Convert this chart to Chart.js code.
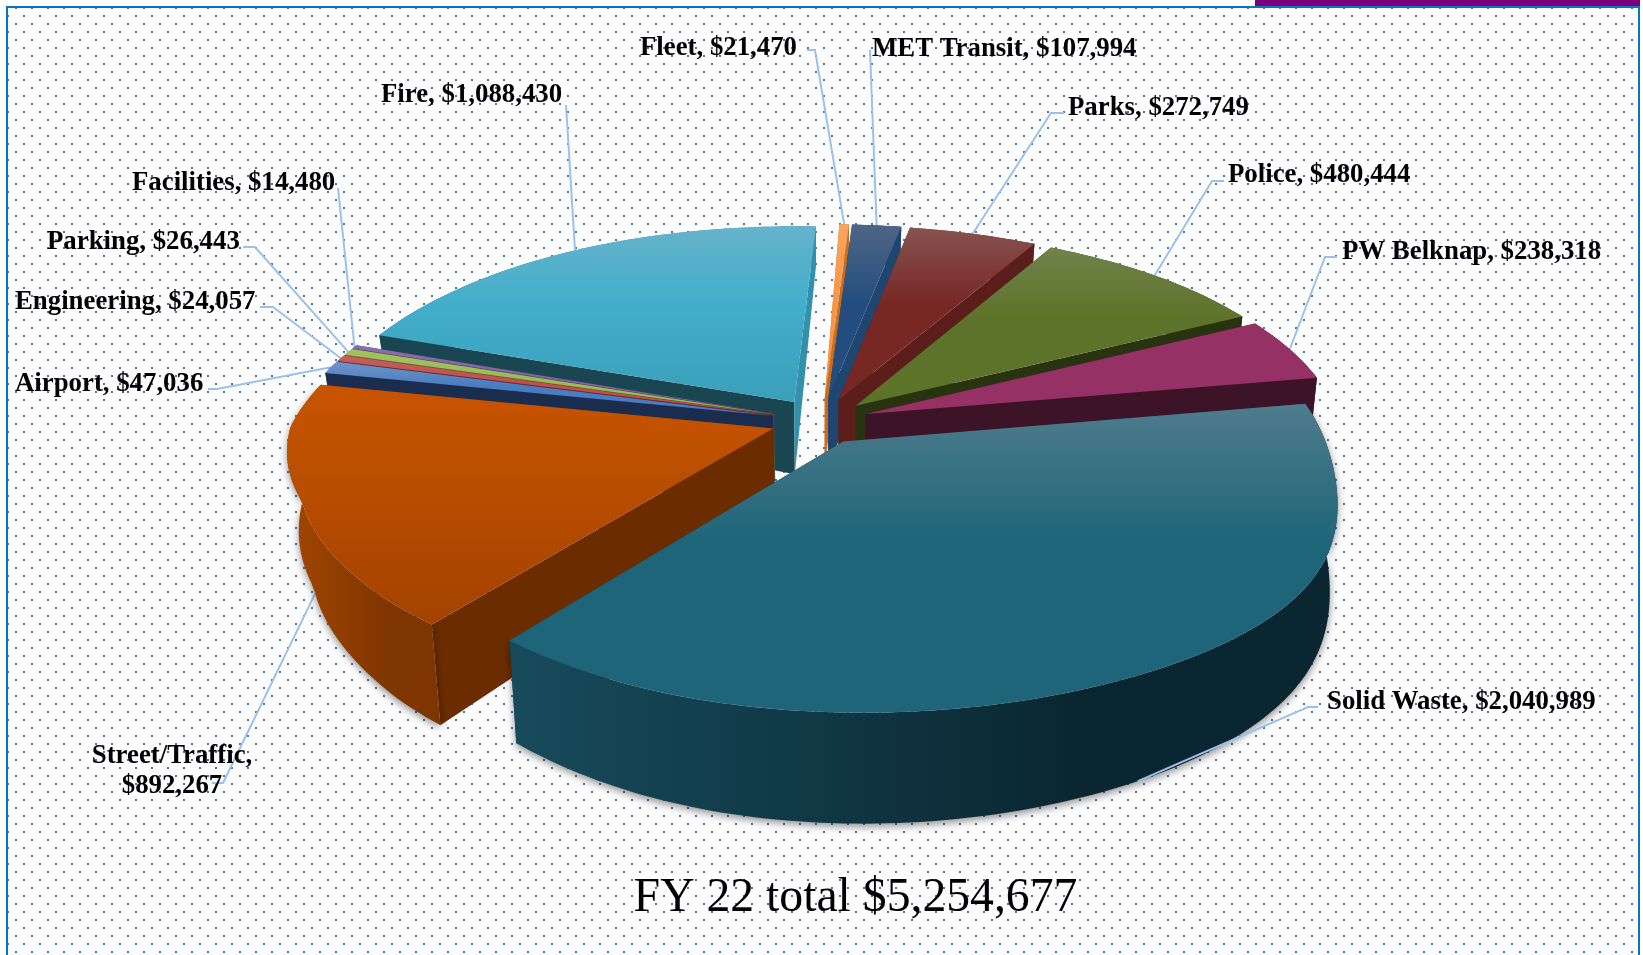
<!DOCTYPE html>
<html>
<head>
<meta charset="utf-8">
<style>
  body { margin: 0; background: #fff; }
  canvas { display: block; }
</style>
<script src="https://cdn.jsdelivr.net/npm/chart.js@4"></script>
</head>
<body>
<canvas id="grafico" width="1643" height="955"></canvas>
<script>
const categories = ["Fleet", "MET Transit", "Parks", "Police", "PW Belknap", "Solid Waste",
  "Street/Traffic", "Airport", "Engineering", "Parking", "Facilities", "Fire"];
const amounts = [21470, 107994, 272749, 480444, 238318, 2040989, 892267, 47036, 24057, 26443, 14480, 1088430];
const chartTitle = "FY 22 total $5,254,677";

// separacion de cada rebanada, en px del radio de Chart.js
const explode = [42, 42, 42, 42, 42, 42, 42, 42, 42, 42, 42, 42];

const topLight = ["#f9a55f", "#4f6585", "#875350", "#70834b", "#953164", "#4f7c8c",
  "#c85400", "#6f95c8", "#c65f5c", "#a3c05f", "#8a70aa", "#66b3cc"];
const topBase = ["#f79646", "#234d7e", "#772724", "#5d7329", "#953164", "#1e6579",
  "#b84d00", "#4a7cc0", "#c0504d", "#9bbb59", "#8064a2", "#42aecb"];
const topEnd = ["#f79646", "#234d7e", "#772724", "#5d7329", "#953164", "#1e6579",
  "#a34200", "#4a7cc0", "#c0504d", "#9bbb59", "#8064a2", "#3a9fba"];
const wallLeft = ["#c66f20", "#1b3f68", "#5c1e1a", "#28330f", "#3d1327", "#174b5c",
  "#a34600", "#263a5c", "#7a2e2c", "#5f7530", "#4d3a66", "#1a4652"];
const wallRight = ["#c66f20", "#1b3f68", "#5c1e1a", "#28330f", "#3d1327", "#0a2630",
  "#7f3500", "#1e3050", "#7a2e2c", "#5f7530", "#4d3a66", "#2b8aa3"];
const sideStart = ["#d97a25", "#19365e", "#541611", "#28330f", "#3d1327", "#13414f",
  "#6b2c00", "#1b2d4e", "#6e2725", "#55692b", "#463360", "#1a4652"];
const sideEnd = ["#c66f20", "#1f4670", "#5c1e1a", "#28330f", "#3d1327", "#13414f",
  "#6b2c00", "#1b2d4e", "#6e2725", "#55692b", "#463360", "#3390aa"];

// posicion de etiquetas: x izquierda, y centro
const labelX = [640, 872, 1068, 1228, 1342, 1327, 172, 15, 15, 47, 132, 381];
const labelY = [48, 49, 108, 175, 252, 702, 0, 384, 302, 242, 183, 95];
const leaderStart = [[807, 50], [870, 56], [1064, 113], [1224, 181], [1337, 257], [1318, 707], [212, 783], [208, 389], [260, 307], [243, 247], [338, 188], [566, 105]];
const leaderElbow = [[815, 50], [870, 50], [1051, 113], [1212, 181], [1325, 257], [1308, 707], [223, 783], [217, 389], [273, 307], [255, 247], [338, 188], [566, 105]];

// proyeccion de la torta: la escala cambia con la profundidad v
const CX = 820, CY = 421, RX_LEFT = 503, RX_RIGHT = 492, KY1 = 228, KY2 = 36.7, TILT = 5;
const SHEAR = 45, DEPTH = 75, DEPTH_V = 33;

function project(u, v, z) {
  const front = Math.max(v, 0), back = Math.min(v, 0);
  const lean = 0.75 * Math.pow(Math.sin(Math.PI * Math.min(front, 1.7) / 1.7), 3);
  const squeeze = 16 * Math.min(1, front * 3) * Math.max(0, Math.min(1, 1 - (front - 0.3) * 2.5));
  const rx = u < 0 ? RX_LEFT - squeeze : RX_RIGHT;
  const x = CX + rx * u * (0.96 + 0.18 * v) + SHEAR * lean + 13 * Math.pow(back, 3);
  const y = CY + KY1 * v + KY2 * v * v + 8 * back * back - TILT * u;
  if (!z) return [x, y];
  const inward = x < CX ? 0.022 : 0.015;
  return [x + (CX - x) * inward * z, y + z * (DEPTH + DEPTH_V * v)];
}

function slicePoints(el) {
  const mid = (el.startAngle + el.endAngle) / 2;
  const e = (el.options.offset || 0) / el.outerRadius;
  const ox = Math.cos(mid) * e, oy = Math.sin(mid) * e;
  const arc = [];
  const steps = Math.max(4, Math.ceil((el.endAngle - el.startAngle) / 0.02));
  for (let i = 0; i <= steps; i++) {
    const a = el.startAngle + (el.endAngle - el.startAngle) * i / steps;
    arc.push([ox + Math.cos(a), oy + Math.sin(a)]);
  }
  return { ox, oy, arc, mid, midPoint: [ox + Math.cos(mid), oy + Math.sin(mid)] };
}

function fillPoly(ctx, pts, fill) {
  ctx.beginPath();
  pts.forEach((p, i) => i ? ctx.lineTo(p[0], p[1]) : ctx.moveTo(p[0], p[1]));
  ctx.closePath();
  ctx.fillStyle = fill;
  ctx.fill();
}

const dotTile = document.createElement("canvas");
dotTile.width = 16;
dotTile.height = 16;
const tileCtx = dotTile.getContext("2d");
tileCtx.fillStyle = "#4472b8";
tileCtx.fillRect(15, 7, 2, 2);
tileCtx.fillRect(-1, 7, 2, 2);
tileCtx.fillRect(7, 15, 2, 2);
tileCtx.fillRect(7, -1, 2, 2);

const marcoPlugin = {
  id: "marco",
  beforeDraw(chart) {
    const ctx = chart.ctx;
    ctx.save();
    ctx.fillStyle = "#fff";
    ctx.fillRect(0, 0, 1643, 955);
    ctx.fillStyle = ctx.createPattern(dotTile, "repeat");
    ctx.fillRect(8, 8, 1630, 947);
    ctx.fillStyle = "#0b72c4";
    ctx.fillRect(6, 6, 1634, 2);
    ctx.fillRect(6, 6, 2, 949);
    ctx.fillRect(1638, 6, 2, 949);
    ctx.fillStyle = "#7b007b";
    ctx.fillRect(1255, 0, 385, 6);
    ctx.restore();
  }
};

const pastel3dPlugin = {
  id: "pastel3d",
  beforeDatasetsDraw(chart) {
    const ctx = chart.ctx;
    const arcs = chart.getDatasetMeta(0).data;
    const shapes = arcs.map(el => slicePoints(el));
    ctx.save();

    // lineas guia
    const drawLeader = i => {
      const sh = shapes[i];
      const front = categories[i] === "Solid Waste" || categories[i] === "Street/Traffic";
      const end = project(sh.midPoint[0], sh.midPoint[1], front ? 1 : 0);
      ctx.strokeStyle = "#9dc0ea";
      ctx.lineWidth = 2;
      ctx.beginPath();
      ctx.moveTo(leaderStart[i][0], leaderStart[i][1]);
      ctx.lineTo(leaderElbow[i][0], leaderElbow[i][1]);
      ctx.lineTo(end[0], end[1]);
      ctx.stroke();
    };
    const solidIndex = categories.indexOf("Solid Waste");
    arcs.forEach((el, i) => { if (i !== solidIndex) drawLeader(i); });

    // de atras hacia adelante
    const order = arcs.map((el, i) => i).sort((a, b) => Math.sin(shapes[a].mid) - Math.sin(shapes[b].mid));
    order.forEach(i => {
      const sh = shapes[i];
      const tops = sh.arc.map(p => project(p[0], p[1], 0));
      const bottoms = sh.arc.map(p => project(p[0], p[1], 1)).reverse();
      const apex = project(sh.ox, sh.oy, 0);
      const apexLow = project(sh.ox, sh.oy, 1);

      const first = tops[0], last = tops[tops.length - 1];
      const firstLow = bottoms[bottoms.length - 1], lastLow = bottoms[0];
      const drawSides = () => {
        fillPoly(ctx, [apex, first, firstLow, apexLow], sideStart[i]);
        fillPoly(ctx, [apex, last, lastLow, apexLow], sideEnd[i]);
      };
      const isFront = Math.sin(sh.mid) > 0;

      // caras del corte: detras de la pared si la rebanada va adelante
      if (isFront) drawSides();

      // pared exterior
      const xs = tops.map(p => p[0]);
      const wallGrad = ctx.createLinearGradient(Math.min(...xs), 0, Math.max(...xs), 0);
      wallGrad.addColorStop(0, wallLeft[i]);
      wallGrad.addColorStop(0.7, wallRight[i]);
      wallGrad.addColorStop(1, wallRight[i]);
      ctx.save();
      if (isFront) {
        ctx.shadowColor = "rgba(0,0,0,0.45)";
        ctx.shadowBlur = 8;
        ctx.shadowOffsetY = 3;
      }
      fillPoly(ctx, tops.concat(bottoms), wallGrad);
      ctx.restore();

      if (!isFront) drawSides();

      // cara superior
      const ys = tops.concat([apex]).map(p => p[1]);
      const topGrad = ctx.createLinearGradient(0, Math.min(...ys), 0, Math.max(...ys));
      topGrad.addColorStop(0, topLight[i]);
      topGrad.addColorStop(0.45, topBase[i]);
      topGrad.addColorStop(1, topEnd[i]);
      fillPoly(ctx, [apex].concat(tops), topGrad);
    });

    drawLeader(solidIndex);

    // etiquetas
    ctx.fillStyle = "#000";
    ctx.font = "bold 26.8px 'Liberation Serif'";
    ctx.textBaseline = "middle";
    arcs.forEach((el, i) => {
      const money = "$" + amounts[i].toLocaleString("en-US");
      if (categories[i] === "Street/Traffic") {
        ctx.textAlign = "center";
        ctx.fillText(categories[i] + ",", labelX[i], 756);
        ctx.fillText(money, labelX[i], 786);
        ctx.textAlign = "left";
      } else {
        ctx.fillText(categories[i] + ", " + money, labelX[i], labelY[i]);
      }
    });
    ctx.restore();
    return false;
  }
};

new Chart(document.getElementById("grafico"), {
  type: "pie",
  data: {
    labels: categories,
    datasets: [{
      data: amounts,
      backgroundColor: topBase,
      offset: explode,
      borderWidth: 0
    }]
  },
  options: {
    responsive: false,
    animation: false,
    rotation: 5,
    layout: { padding: { left: 68, bottom: 28 } },
    plugins: {
      legend: { display: false },
      tooltip: { enabled: false },
      title: {
        display: true,
        position: "bottom",
        text: chartTitle,
        color: "#000",
        font: { family: "'Liberation Serif'", size: 47.7, weight: "normal" },
        padding: 0
      }
    }
  },
  plugins: [marcoPlugin, pastel3dPlugin]
});
</script>
</body>
</html>
